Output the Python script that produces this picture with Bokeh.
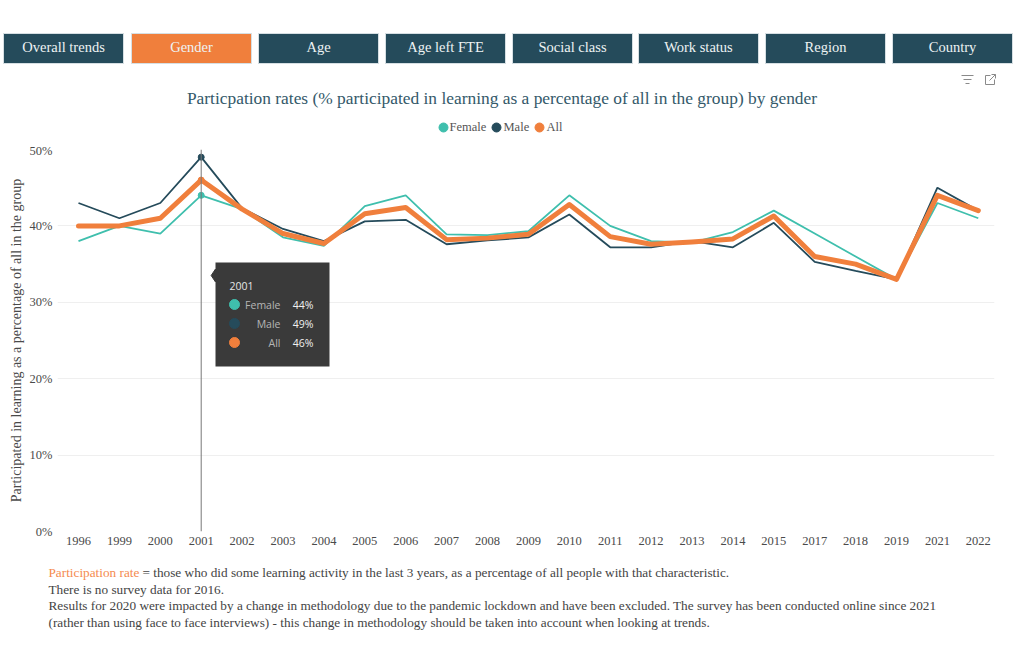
from bokeh.plotting import figure
from bokeh.layouts import column
from bokeh.models import Span, Range1d, FixedTicker, BoxAnnotation
from bokeh.core.properties import value
from bokeh.embed import file_html
from bokeh.resources import INLINE

years = ["1996","1999","2000","2001","2002","2003","2004","2005","2006","2007","2008","2009","2010","2011","2012","2013","2014","2015","2017","2018","2019","2021","2022"]
female = [38,40,39,44,42.2,38.5,37.4,42.6,44,38.9,38.8,39.3,44,40,38,37.8,39.2,42,39,36,33,43,41]
male = [43,41,43,49,42.3,39.6,38,40.6,40.8,37.6,38.1,38.5,41.5,37.2,37.2,38,37.2,40.4,35.3,34.1,33,45,42]
overall = [40,40,41,46,42.2,39,37.7,41.6,42.4,38.2,38.4,38.9,42.8,38.6,37.6,37.9,38.3,41.3,36,35,33,44,42]
series_names = ["Female", "Male", "All"]
y_ticks = [0,10,20,30,40,50]
buttons = ["Overall trends","Gender","Age","Age left FTE","Social class","Work status","Region","Country"]
button_left = [3,131,258,385,512,638,765,892]
title = "Particpation rates (% participated in learning as a percentage of all in the group) by gender"
y_title = "Participated in learning as a percentage of all in the group"
note_lead = "Participation rate"
note_first = "= those who did some learning activity in the last 3 years, as a percentage of all people with that characteristic."
notes = ["There is no survey data for 2016.",
         "Results for 2020 were impacted by a change in methodology due to the pandemic lockdown and have been excluded. The survey has been conducted online since 2021",
         "(rather than using face to face interviews) - this change in methodology should be taken into account when looking at trends."]

TEAL, NAVY, ORANGE = "#3fbfad", "#254b5b", "#f07f3c"
SERIF = "Liberation Serif"
W = 1015
L, T, FW, FH = 57, 149, 937, 382
B = T + FH
STEP = 40.9
X0 = (L - 78) / STEP
HEAD_H, FOOT_H = T - 6, 85
MAIN_H = FH + 24 + 6

def panel(h, top_px):
    """A figure whose frame fills it, with ranges in page pixels."""
    f = figure(width=W, height=h, output_backend="svg", toolbar_location=None,
               x_axis_type=None, y_axis_type=None, outline_line_color=None,
               x_range=Range1d(0, W), y_range=Range1d(top_px + h, top_px), frame_align=False,
               min_border_left=0, min_border_right=0, min_border_top=0, min_border_bottom=0, margin=0)
    f.xgrid.visible = False
    f.ygrid.visible = False
    return f

def put(f, x, y, s, size, color, align="left", font=SERIF):
    f.text([x], [y], text=[s], text_font=value(font), text_font_size=f"{size}px", text_color=color,
           text_align=align, text_baseline="middle")

# ---------- header ----------
head = panel(HEAD_H, 0)
for name, left in zip(buttons, button_left):
    active = name == "Gender"
    head.quad(left=[left], right=[left + 120], top=[33], bottom=[63],
              fill_color=ORANGE if active else "#254b5b", line_color="#d6dfe3")
    put(head, left + 60, 46.5, name, 14.5, "#eef3f4", "center")
put(head, 501.5, 97, title, 17.4, "#34596a", "center")
ICON = "#8a8a8a"
for l, r, t in ((961, 973, 75), (963, 971, 79), (965, 969, 83)):
    head.segment([l], [t], [r], [t], line_color=ICON, line_width=1)
head.line([990, 985, 985, 994, 994], [75, 75, 84, 84, 79], line_color=ICON, line_width=1)
head.line([989, 995], [80, 74], line_color=ICON, line_width=1)
head.line([991, 995, 995], [74, 74, 78], line_color=ICON, line_width=1)

# legend
for name, color, cx, tx in zip(series_names, (TEAL, NAVY, ORANGE), (443, 496, 539), (449, 503, 546)):
    head.scatter([cx], [127], size=9, color=color)
    put(head, tx, 126.5, name, 12.5, "#555555")

# ---------- chart ----------
p = figure(width=W, height=MAIN_H, output_backend="svg", toolbar_location=None,
           x_range=Range1d(X0, X0 + FW / STEP), y_range=Range1d(0, 50), frame_align=False,
           frame_width=FW, frame_height=FH, min_border_left=L, min_border_top=6,
           min_border_right=W - L - FW, min_border_bottom=24, outline_line_color=None, margin=0)

xs = list(range(len(years)))
p.xaxis.ticker = FixedTicker(ticks=xs)
p.xaxis.major_label_overrides = {i: y for i, y in enumerate(years)}
p.yaxis.ticker = FixedTicker(ticks=y_ticks)
p.yaxis.major_label_overrides = {v: f"{v}%" for v in y_ticks}
for ax in (p.xaxis[0], p.yaxis[0]):
    ax.axis_line_color = None
    ax.major_tick_line_color = None
    ax.minor_tick_line_color = None
    ax.major_tick_in = 0
    ax.major_tick_out = 0
    ax.major_label_text_font = SERIF
    ax.major_label_text_color = "#4a4a4a"
    ax.major_label_text_font_size = "12.5px"
p.xaxis.major_label_standoff = 5
p.yaxis.major_label_standoff = 5
p.yaxis.axis_label = y_title
p.yaxis.axis_label_text_font = SERIF
p.yaxis.axis_label_text_font_style = "normal"
p.yaxis.axis_label_text_font_size = "14px"
p.yaxis.axis_label_text_color = "#4a4a4a"
p.yaxis.axis_label_standoff = 3
p.xgrid.visible = False
p.ygrid.grid_line_color = "#efefef"
p.ygrid.grid_line_width = 1

def dx(px): return (px - 78) / STEP
def dy(py): return (B - py) / FH * 50

p.add_layout(BoxAnnotation(left=dx(215), right=dx(329), top=dy(262), bottom=dy(366),
                           fill_color="#3a3a3a", fill_alpha=1, line_color=None, level="underlay"))
p.line(xs, female, line_color=TEAL, line_width=1.8)
p.line(xs, male, line_color=NAVY, line_width=1.8)
p.line(xs, overall, line_color=ORANGE, line_width=5, line_join="round", line_cap="round")

HI = years.index("2001")
p.add_layout(Span(location=xs[HI], dimension="height", line_color="#777777", line_width=1))
p.scatter([xs[HI]], [female[HI]], size=6, color=TEAL)
p.scatter([xs[HI]], [male[HI]], size=6, color=NAVY)
p.scatter([xs[HI]], [overall[HI]], size=6, color=ORANGE)

p.scatter([dx(215)], [dy(275)], marker="diamond", size=13, color="#3a3a3a")
p.scatter([dx(234)] * 3, [dy(304), dy(323), dy(342)], size=10, color=[TEAL, NAVY, ORANGE])
TF = "Open Sans"
def tip(x, py, s, color, align="left"):
    p.text([dx(x)], [dy(py)], text=[s], text_font=value(TF), text_font_size="10.5px", text_color=color,
           text_align=align, text_baseline="middle")
tip(229, 285, years[HI], "#e6e6e6")
for yy, name, val in zip((304, 323, 342), series_names, (female, male, overall)):
    tip(280, yy, name, "#b5b5b5", "right")
    tip(313, yy, f"{val[HI]}%", "#f0f0f0", "right")

# ---------- footnotes ----------
foot = panel(FOOT_H, HEAD_H + MAIN_H)
put(foot, 48, 572, note_lead, 13.25, "#f58b4f")
put(foot, 142, 572, note_first, 13.25, "#444444")
for yy, s in zip((589, 605, 622), notes):
    put(foot, 48, yy, s, 13.25, "#444444")

page = column(head, p, foot, spacing=0, margin=0)
open("out.html", "w").write(file_html(page, INLINE))
